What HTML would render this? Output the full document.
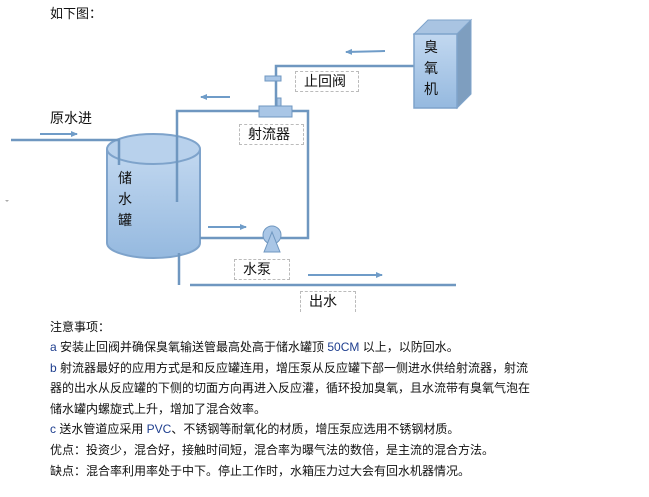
<!DOCTYPE html>
<html><head><meta charset="utf-8"><style>
body{margin:0;width:649px;height:497px;background:#fff;position:relative;overflow:hidden;font-family:"Liberation Sans","Noto Sans CJK SC",sans-serif;color:#111}
.t{position:absolute;font-size:12px;line-height:16px;white-space:nowrap}
.lb{position:absolute;border:1px dashed #bbb;font-size:14px;line-height:18px;box-sizing:border-box;padding-left:8px}
.b{color:#1f3f8f}
</style></head><body>
<svg width="649" height="497" style="position:absolute;left:0;top:0">
<defs>
<linearGradient id="g" x1="0" y1="0" x2="0" y2="1"><stop offset="0" stop-color="#c2d8f0"/><stop offset="1" stop-color="#95b9df"/></linearGradient>
<marker id="a" markerWidth="8" markerHeight="8" refX="6" refY="3" orient="auto" markerUnits="userSpaceOnUse"><path d="M0,0 L7,3 L0,6 Z" fill="#6f9cc8"/></marker>
</defs>
<g stroke="#6f97c0" stroke-width="2.5" fill="none">
<path d="M107,149 L107,243 A46.5,15 0 0 0 200,243 L200,149" fill="url(#g)" stroke="#7ea3cb" stroke-width="2"/>
<ellipse cx="153.5" cy="149" rx="46.5" ry="15" fill="#b8d1ec" stroke="#7ea3cb" stroke-width="2"/>
<path d="M11,140 L119,140 L119,165"/>
<path d="M177,202 L177,111 L259,111"/>
<path d="M292,111 L308,111 L308,238 L280,238"/>
<path d="M200,238 L264,238"/>
<path d="M179,253 L179,285"/>
<path d="M190,285 L456,285"/>
<path d="M276,110 L276,66 L414,66"/>
</g>
<g stroke="#6f9cc8" stroke-width="2" fill="none" marker-end="url(#a)">
<line x1="40" y1="134" x2="77" y2="134"/>
<line x1="385" y1="51" x2="346" y2="52"/>
<line x1="230" y1="97" x2="201" y2="97"/>
<line x1="208" y1="227" x2="246" y2="227"/>
<line x1="308" y1="275" x2="382" y2="275"/>
</g>
<rect x="265" y="76" width="16" height="5" fill="#a9c6e6" stroke="#6f97c0"/>
<rect x="277" y="98" width="4" height="8" fill="#a9c6e6" stroke="#6f97c0"/>
<rect x="259" y="106" width="33" height="11" fill="#a9c6e6" stroke="#6f97c0"/>
<circle cx="272" cy="235" r="9" fill="#a9c6e6" stroke="#6f97c0"/>
<path d="M264,252 L272,232 L280,252 Z" fill="#a9c6e6" stroke="#6f97c0"/>
<path d="M414,34 L428,20 L471,20 L457,34 Z" fill="#a9c4e2" stroke="#7ea3cb"/>
<path d="M457,34 L471,20 L471,94 L457,108 Z" fill="#7e9ebf" stroke="#7ea3cb"/>
<rect x="414" y="34" width="43" height="74" fill="url(#g)" stroke="#7ea3cb" stroke-width="1.5"/>
<path d="M5,200 L9,200 L7,202 Z" fill="#aaa"/>
</svg>
<div class="t" style="left:50px;top:6px;font-size:13px">如下图：</div>
<div class="t" style="left:50px;top:110px;font-size:14px">原水进</div>
<div class="t" style="left:118px;top:168px;font-size:14px;line-height:21px">储<br>水<br>罐</div>
<div class="t" style="left:424px;top:37px;font-size:14px;line-height:21px">臭<br>氧<br>机</div>
<div class="lb" style="left:295px;top:71px;width:64px;height:21px">止回阀</div>
<div class="lb" style="left:239px;top:124px;width:65px;height:21px">射流器</div>
<div class="lb" style="left:234px;top:259px;width:56px;height:21px">水泵</div>
<div class="lb" style="left:300px;top:291px;width:56px;height:21px;border-bottom:none">出水</div>
<div class="t" style="left:50px;top:319px">注意事项：</div>
<div class="t" style="left:50px;top:339px"><span class="b">a</span> 安装止回阀并确保臭氧输送管最高处高于储水罐顶 <span class="b">50CM</span> 以上，以防回水。</div>
<div class="t" style="left:50px;top:360px"><span class="b">b</span> 射流器最好的应用方式是和反应罐连用，增压泵从反应罐下部一侧进水供给射流器，射流</div>
<div class="t" style="left:50px;top:380px">器的出水从反应罐的下侧的切面方向再进入反应灌，循环投加臭氧，且水流带有臭氧气泡在</div>
<div class="t" style="left:50px;top:401px">储水罐内螺旋式上升，增加了混合效率。</div>
<div class="t" style="left:50px;top:421px"><span class="b">c</span> 送水管道应采用 <span class="b">PVC</span>、不锈钢等耐氧化的材质，增压泵应选用不锈钢材质。</div>
<div class="t" style="left:50px;top:442px">优点：投资少，混合好，接触时间短，混合率为曝气法的数倍，是主流的混合方法。</div>
<div class="t" style="left:50px;top:463px">缺点：混合率利用率处于中下。停止工作时，水箱压力过大会有回水机器情况。</div>
</body></html>
